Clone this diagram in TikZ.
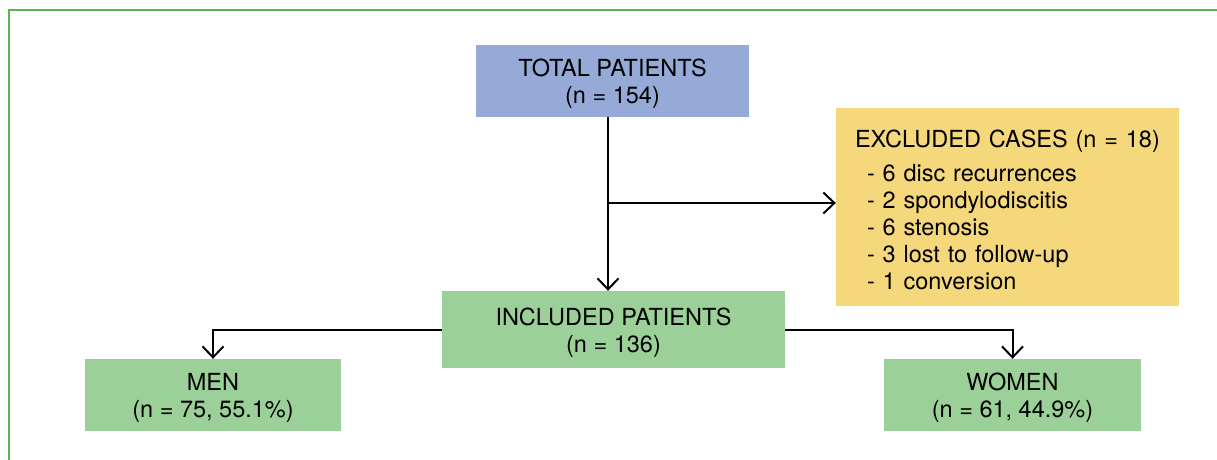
\documentclass[tikz,border=0pt]{standalone}
\usepackage{fontspec}
\setmainfont{TeX Gyre Heros}
\usetikzlibrary{arrows.meta,calc}
\definecolor{framegreen}{RGB}{88,180,80}
\definecolor{boxblue}{RGB}{149,170,214}
\definecolor{boxgreen}{RGB}{155,209,152}
\definecolor{boxyellow}{RGB}{245,216,124}
\newcommand{\topstrut}{\rule{0pt}{23pt}}
\begin{document}
\begin{tikzpicture}[x=1pt,y=-1pt,
  every node/.style={font=\fontsize{23.5}{27}\selectfont, text=black},
  box/.style={rectangle, inner sep=0pt, align=center},
  arr/.style={line width=2pt, draw=black, -{Straight Barb[length=11pt,width=21pt,line width=2pt]}}]
\useasboundingbox (0,0) rectangle (1217,459);
\fill[white] (0,0) rectangle (1217,459);
\draw[framegreen, line width=2.5pt] (9,470) -- (9,10) -- (1230,10);

\node[box, fill=boxblue, minimum width=273pt, minimum height=72pt] (total) at (612.5,81) {\topstrut TOTAL PATIENTS\\(n = 154)};
\node[box, fill=boxyellow, minimum width=343pt, minimum height=198pt, text width=305pt, align=left] (excl) at (1007.5,207)
  {\topstrut EXCLUDED CASES (n = 18)\\[7pt]
   \hspace*{12pt}- 6 disc recurrences\\
   \hspace*{12pt}- 2 spondylodiscitis\\
   \hspace*{12pt}- 6 stenosis\\
   \hspace*{12pt}- 3 lost to follow-up\\
   \hspace*{12pt}- 1 conversion};
\node[box, fill=boxgreen, minimum width=343pt, minimum height=77pt] (incl) at (613.5,329.5) {\topstrut INCLUDED PATIENTS\\(n = 136)};
\node[box, fill=boxgreen, minimum width=256pt, minimum height=72pt] (men) at (213,395) {\topstrut MEN\\(n = 75, 55.1\%)};
\node[box, fill=boxgreen, minimum width=257pt, minimum height=72pt] (women) at (1012.5,395) {\topstrut WOMEN\\(n = 61, 44.9\%)};

\coordinate (split) at (608,203);
\draw[arr] (split |- total.south) -- (split |- incl.north);
\draw[arr] (split) -- (split -| excl.west);
\draw[arr] (incl.west) -| (men.north);
\draw[arr] (incl.east) -| (women.north);
\end{tikzpicture}
\end{document}
